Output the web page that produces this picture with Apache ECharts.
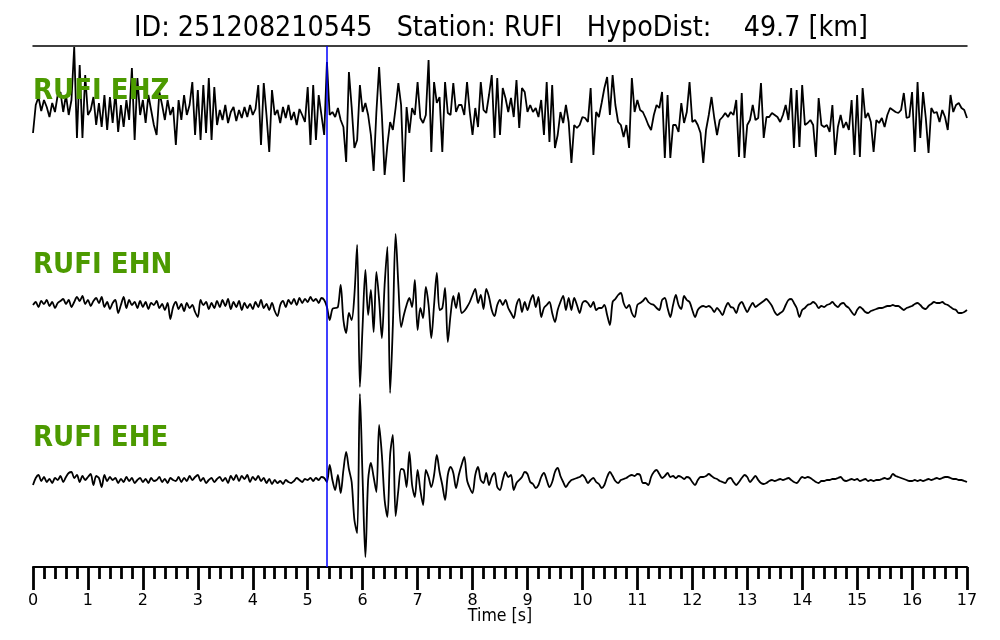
<!DOCTYPE html>
<html>
<head>
<meta charset="utf-8">
<script src="https://cdn.jsdelivr.net/npm/echarts@6/dist/echarts.min.js"></script>
<style>
html,body{margin:0;padding:0;background:#fff;}
#chart{width:1000px;height:640px;}
</style>
</head>
<body>
<div id="chart"></div>
<script>
// ---- data ----
const titleText = 'ID: 251208210545   Station: RUFI   HypoDist:    49.7 [km]';
const channelNames = ['RUFI EHZ', 'RUFI EHN', 'RUFI EHE'];
const sampleInterval = 0.05; // seconds
const pickTime = 5.35;       // s, blue marker
const timeTicks = [0, 1, 2, 3, 4, 5, 6, 7, 8, 9, 10, 11, 12, 13, 14, 15, 16, 17];
const axisTitle = 'Time [s]';

const ehz = [
 -18, 10, 18, 4, 15, 8, -2, 12, 3, 20,
 23, 3, 20, 0, 15, 68, -23, 50, -23, 40,
 0, 5, 18, -10, 12, -12, 20, -15, 18, -8,
 23, -17, 10, -12, 15, -5, 47, -25, 37, 0,
 15, -8, 20, 5, -10, -20, 23, 10, -5, 15,
 0, 8, -30, 15, -5, 20, 0, 10, 33, -20,
 25, -25, 30, -18, 37, -25, 28, -10, 5, -5,
 10, -8, 3, 8, -6, 5, -3, 8, -2, 10,
 0, 6, 30, -30, 32, 0, -37, 25, 0, 5,
 -8, 8, -3, 10, -5, 3, -10, 6, 0, -7,
 28, -30, 30, -25, 20, 0, -20, 53, 0, 3,
 -2, 7, -5, -12, -47, 43, 8, -33, -25, 30,
 3, 12, 0, -20, -56, 3, 48, 0, -60, -30,
 -7, -15, 7, 32, 10, -67, 8, -18, 7, 0,
 33, -3, -8, 0, 55, -37, 33, 12, 18, -37,
 33, 2, 0, 32, 3, 10, 10, 0, 33, 3,
 -20, 7, -12, 33, 5, 2, 20, 40, -23, 37,
 -20, 27, 17, 3, 17, -2, 35, -13, 27, 23,
 3, 10, 3, 7, -2, 15, -20, 33, -27, 30,
 -33, -20, 3, -8, 10, -7, -48, -10, -13, -10,
 -2, -3, -7, 27, -40, 3, -2, 12, 27, 38,
 0, 40, 10, -7, -10, -22, -10, -33, 37, 3,
 15, 5, 3, -3, -10, -15, 0, 10, 7, 23,
 -43, 20, -43, -10, -10, -17, 12, -8, 3, 33,
 -7, -5, -10, -18, -48, -15, 0, 18, -3, -20,
 -5, -2, 2, -2, 3, 0, 15, -42, 22, -43,
 -10, -5, 10, -5, -3, 32, -23, -2, -2, 2,
 0, -2, -7, 0, 10, -5, 27, -33, 25, -32,
 30, -10, -8, -5, -10, -42, 17, -10, -12, -10,
 -17, 10, -40, -12, 0, -13, -7, -15, 15, -40,
 20, -42, 27, -3, 2, -7, -37, -5, -8, -3,
 -12, 0, 7, 5, 3, 2, 5, 22, -3, -2,
 23, -37, 33, -23, 23, -3, -38, 7, 2, 3,
 -7, 5, -2, -15, 20, 3, 10, 12, 7, 5,
 -3
];

const ehn = [
 0, 3, -2, 4, 1, 5, -1, 3, -3, 2,
 4, 6, 1, 5, -2, 3, 8, 4, 9, 1,
 5, -1, 4, 7, 2, 8, -2, 3, -4, 2,
 5, -8, 0, 8, -3, 5, 0, 3, -3, 4,
 -2, 3, -4, 2, 0, 4, -3, 1, -5, 2,
 -14, -2, 3, -4, 1, -6, 2, -3, 0, -7,
 -12, 5, 0, 3, -4, 2, -3, 4, -2, 5,
 -1, 6, -4, 3, -2, 4, -5, 2, -3, 1,
 -4, 3, -2, 5, -3, 1, -5, 2, -6, -11,
 0, 4, -2, 5, 1, 6, 0, 7, 2, 6,
 3, 8, 4, 6, 2, 7, 5, -2, -15, -4,
 -3, -2, 20, -15, -28, -8, -15, 10, 60, -82,
 -20, 35, -10, 15, -27, 33, 5, -33, 20, 58,
 -88, -20, 71, 20, -22, -10, 0, 7, -2, 25,
 -25, -3, -13, 18, 0, -33, 0, 32, -5, -3,
 17, -37, -10, 9, -3, 12, -8, -6, -2, 3,
 10, 16, 2, 10, -4, 16, 8, -5, -11, 0,
 5, 0, 5, -3, -8, -13, 0, 6, -7, 3,
 -5, 4, 10, -2, 8, -12, -3, 0, 3, -8,
 -17, -5, 3, 9, -5, 7, -5, 7, 0, -8,
 2, 4, 2, -2, 3, -5, -3, -3, 0, -10,
 -20, 3, 6, 10, 12, 2, -3, 0, -8, -12,
 0, 2, 4, 7, 3, 1, 0, -3, -5, 5,
 7, -3, -12, 0, 10, 0, -4, 9, 5, 3,
 -5, -12, -5, -2, -1, -2, -1, -3, -7, -3,
 -6, -10, -3, 2, -2, -3, -8, 0, 3, -2,
 -7, -2, 2, -2, 0, 2, 4, 6, 3, -1,
 -7, -10, -8, -6, 0, 5, 6, 2, -3, -12,
 -5, -3, 0, 1, 3, 1, -3, -1, -2, 0,
 1, 3, 0, -2, 1, 2, -1, -3, -7, -10,
 -5, -2, -4, -7, -8, -6, -5, -4, -3, -3,
 -2, -1, -1, 0, -1, -1, -3, -5, -3, -2,
 -1, 1, 2, 0, -3, -4, -1, 1, 3, 2,
 2, 3, 1, 0, -2, -4, -5, -8, -8, -7,
 -5
];

const ehe = [
 -5, 2, 5, -1, 3, -2, 1, -3, 2, 0,
 4, -2, 3, 7, 8, 2, 5, -2, 4, 0,
 3, 6, -5, 4, 2, -7, 5, -1, 3, 0,
 2, -3, 1, -2, 3, -1, 2, -3, 0, 2,
 -2, 1, -3, 2, -1, 0, 3, -2, 1, -3,
 2, 0, -1, 3, -2, 2, -1, 4, 0, 3,
 5, -1, 2, -3, 0, 2, -2, 1, 3, -1,
 2, -3, 4, 0, 5, -1, 4, 1, 5, -2,
 3, 0, 4, -1, 2, -3, 1, -4, 0, -3,
 -1, -4, 0, -2, -3, -1, 2, 0, -2, 1,
 0, 2, -1, 2, 0, 3, 2, -2, 15, 0,
 -10, 5, -13, 10, 28, 11, -2, -40, -53, 86,
 0, -77, 0, 17, 3, -12, 55, 25, -20, -37,
 25, 45, -36, -10, 11, 10, -7, 28, -5, -17,
 10, -10, -25, 10, 3, -7, 5, 25, 8, -5,
 -20, 5, 13, 7, -8, 5, 15, 23, 0, -8,
 -13, 5, 13, 0, -3, 7, -5, 3, 7, -7,
 -10, 0, 8, 3, 5, -10, -3, 0, 3, 8,
 6, -2, -4, -8, -5, 3, 7, 0, -7, -2,
 8, 12, 4, -2, -7, -3, 0, 1, 2, 3,
 5, 2, -3, 0, 2, -2, -4, -8, -5, 3,
 8, 4, -1, -3, 0, 1, 2, 4, 5, 4,
 6, 5, -3, -3, -5, 3, 8, 10, 6, 2,
 4, 7, 3, 4, 2, 4, 3, 1, 3, 2,
 -2, -5, 0, 3, 3, 4, 6, 4, 2, 1,
 -1, -2, -3, 1, 2, -2, -5, -2, 2, 5,
 3, -2, 1, 4, 0, -3, -4, -3, -1, 0,
 -1, 0, 1, 0, 1, 2, 0, -2, -3, 0,
 3, 2, 3, 2, 0, -2, -3, -1, -1, 0,
 0, 1, 1, 2, 3, 0, -1, 0, 1, 0,
 1, -1, 0, 1, -1, 0, -1, 0, 0, 1,
 2, 1, 2, 6, 4, 3, 2, 1, 0, -1,
 -1, 0, -1, 0, -1, 0, 1, 0, 1, 2,
 1, 2, 3, 3, 2, 1, 1, 0, 0, -1,
 -2
];

// ---- chart ----
const FONT = 'DejaVu Sans';
const traces = [ehz, ehn, ehe];
const traceTops = [15, 205, 380];   // each grid 200px tall, amplitude range +-100
const smoothing = [false, 0.3, 0.3];
const labelY = [92, 266, 439];

const grids = traceTops.map(t => ({left: 33, right: 33, top: t, height: 200}));
grids.push({left: 33, right: 33, top: 46, height: 521});

const xAxes = traceTops.map((t, k) => ({type: 'value', gridIndex: k, min: 0, max: 17, show: false}));
xAxes.push({
  type: 'value', gridIndex: 3, min: 0, max: 17, interval: 1, position: 'bottom',
  axisLine: {show: true, onZero: false, lineStyle: {color: '#000', width: 2}},
  axisTick: {show: true, length: 23, lineStyle: {color: '#000', width: 2.8}},
  minorTick: {show: true, splitNumber: 5, length: 12, lineStyle: {color: '#000', width: 2.8}},
  axisLabel: {show: true, margin: 26, fontSize: 16, color: '#000', fontFamily: FONT,
              formatter: v => timeTicks.indexOf(v) >= 0 ? String(v) : ''},
  splitLine: {show: false}, minorSplitLine: {show: false}
});
xAxes.push({
  type: 'value', gridIndex: 3, min: 0, max: 17, position: 'top',
  axisLine: {show: true, onZero: false, lineStyle: {color: '#000', width: 1.5}},
  axisTick: {show: false}, axisLabel: {show: false}, splitLine: {show: false}
});

const yAxes = traceTops.map((t, k) => ({type: 'value', gridIndex: k, min: -100, max: 100, show: false}));
yAxes.push({type: 'value', gridIndex: 3, min: 0, max: 1, show: false});

const series = traces.map((arr, k) => ({
  type: 'line', xAxisIndex: k, yAxisIndex: k,
  data: arr.map((v, i) => [+(i * sampleInterval).toFixed(3), v]),
  showSymbol: false, symbol: 'none', smooth: smoothing[k], clip: false,
  lineStyle: {color: '#000', width: 1.8}, silent: true
}));
series.push({
  type: 'line', xAxisIndex: 3, yAxisIndex: 3, data: [], silent: true,
  markLine: {
    symbol: 'none', silent: true, label: {show: false},
    lineStyle: {color: '#0000ff', width: 1.5, type: 'solid', opacity: 1},
    data: [{xAxis: pickTime}]
  }
});

const graphic = [
  {type: 'text', x: 501, y: 28.5, scaleX: 0.91, style: {text: titleText, font: '28px "' + FONT + '"', fill: '#000',
     textAlign: 'center', textVerticalAlign: 'middle'}},
  {type: 'text', x: 500, y: 617, scaleX: 0.93, style: {text: axisTitle, font: '17px "' + FONT + '"', fill: '#000',
     textAlign: 'center', textVerticalAlign: 'middle'}}
];
channelNames.forEach((n, k) => graphic.push({
  type: 'text', x: 33, y: labelY[k], z: 10, scaleX: 0.915,
  style: {text: n, font: 'bold 28.5px "' + FONT + '"', fill: '#4c9a00', textAlign: 'left', textVerticalAlign: 'middle'}
}));

const chart = echarts.init(document.getElementById('chart'), null, {renderer: 'canvas'});
chart.setOption({
  animation: false,
  backgroundColor: '#fff',
  grid: grids, xAxis: xAxes, yAxis: yAxes, series: series, graphic: graphic
});
</script>
</body>
</html>
